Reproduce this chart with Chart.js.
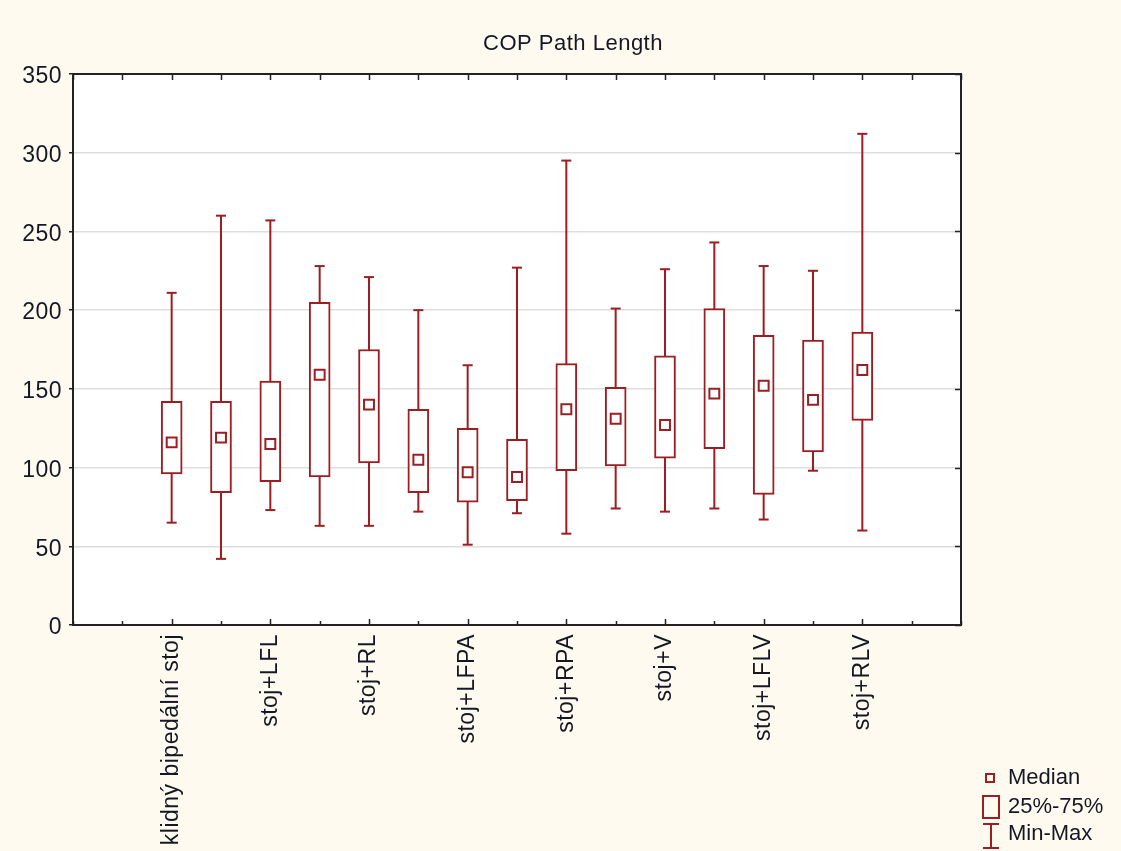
<!DOCTYPE html>
<html>
<head>
<meta charset="utf-8">
<title>COP Path Length</title>
<script src="https://cdn.jsdelivr.net/npm/chart.js@4/dist/chart.umd.min.js"></script>
<style>
  html, body { margin: 0; padding: 0; background: #fffaef; }
  canvas { display: block; }
</style>
</head>
<body>
<canvas id="chart" width="1121" height="851"></canvas>
<script>
// every other box is labelled on the axis
const categories = ['klidný bipedální stoj', '', 'stoj+LFL', '', 'stoj+RL', '', 'stoj+LFPA', '',
                    'stoj+RPA', '', 'stoj+V', '', 'stoj+LFLV', '', 'stoj+RLV'];
const mins    = [65, 42, 73, 63, 63, 72, 51, 71, 58, 74, 72, 74, 67, 98, 60];
const q1      = [96, 84, 91, 94, 103, 84, 78, 79, 98, 101, 106, 112, 83, 110, 130];
const medians = [116, 119, 115, 159, 140, 105, 97, 94, 137, 131, 127, 147, 152, 143, 162];
const q3      = [142, 142, 155, 205, 175, 137, 125, 118, 166, 151, 171, 201, 184, 181, 186];
const maxs    = [211, 260, 257, 228, 221, 200, 165, 227, 295, 201, 226, 243, 228, 225, 312];
const yTicks  = [0, 50, 100, 150, 200, 250, 300, 350];
const title = 'COP Path Length';
const legendItems = ['Median', '25%-75%', 'Min-Max'];

const RED = '#9c1e22';
const INK = '#141824';
const FONT = '"Liberation Sans", Arial, sans-serif';

const background = {
    id: 'background',
    beforeUpdate(chart) { chart.ctx.letterSpacing = '0.5px'; },
    beforeDraw(chart) {
        const {ctx, chartArea: a} = chart;
        ctx.letterSpacing = '0.5px';
        ctx.save();
        ctx.fillStyle = '#fffaef';
        ctx.fillRect(0, 0, chart.width, chart.height);
        ctx.fillStyle = '#ffffff';
        ctx.fillRect(a.left, a.top, a.right - a.left, a.bottom - a.top);
        ctx.restore();
    }
};

// frame with inner ticks on bottom, top and right, plus title and legend
const frame = {
    id: 'frame',
    afterDatasetsDraw(chart) {
        const {ctx, chartArea: a, scales: {x, y}} = chart;
        ctx.save();
        ctx.strokeStyle = '#222';
        ctx.lineWidth = 1.5;
        ctx.beginPath();
        x.ticks.forEach(t => {
            const px = Math.round(x.getPixelForValue(t.value)) + 0.5;
            const len = (t.label !== '') ? 6 : 4;
            ctx.moveTo(px, a.bottom); ctx.lineTo(px, a.bottom - len);
            ctx.moveTo(px, a.top); ctx.lineTo(px, a.top + 6);
        });
        y.ticks.forEach(t => {
            const py = Math.round(y.getPixelForValue(t.value)) + 0.5;
            ctx.moveTo(a.right, py); ctx.lineTo(a.right - 6, py);
        });
        ctx.stroke();
        ctx.lineWidth = 2;
        ctx.strokeRect(a.left, a.top, a.right - a.left, a.bottom - a.top);
        ctx.restore();
    },
    afterDraw(chart) {
        const ctx = chart.ctx;
        ctx.save();
        ctx.fillStyle = INK;
        ctx.font = '22px ' + FONT;
        ctx.letterSpacing = '0.5px';
        ctx.textAlign = 'center';
        ctx.textBaseline = 'middle';
        ctx.fillText(title, 573, 44);

        ctx.strokeStyle = RED;
        ctx.lineWidth = 2;
        ctx.strokeRect(986, 774, 8, 8);
        ctx.strokeRect(983, 796, 16, 22);
        ctx.beginPath();
        ctx.moveTo(991, 824); ctx.lineTo(991, 848);
        ctx.moveTo(983, 824); ctx.lineTo(999, 824);
        ctx.moveTo(983, 848); ctx.lineTo(999, 848);
        ctx.stroke();
        ctx.textAlign = 'left';
        ctx.letterSpacing = '0px';
        [778, 807, 834].forEach((ty, i) => ctx.fillText(legendItems[i], 1008, ty));
        ctx.restore();
    }
};

const idx = categories.map((c, i) => i);

new Chart(document.getElementById('chart'), {
    type: 'bar',
    data: {
        datasets: [{
            // median squares on top
            type: 'line',
            order: 0,
            showLine: false,
            data: idx.map(i => ({x: i, y: medians[i]})),
            pointStyle: 'rect',
            pointRadius: 7,
            pointBorderWidth: 2,
            pointBorderColor: RED,
            pointBackgroundColor: '#ffffff'
        }, {
            // 25%-75% box
            type: 'bar',
            order: 1,
            data: idx.map(i => ({x: i, y: [q1[i], q3[i]]})),
            barThickness: 21,
            backgroundColor: '#ffffff',
            borderColor: RED,
            borderWidth: 2,
            borderSkipped: false
        }, {
            // min-max whisker
            type: 'line',
            order: 2,
            data: idx.flatMap(i => [{x: i, y: mins[i]}, {x: i, y: maxs[i]}, {x: i, y: null}]),
            spanGaps: false,
            borderColor: RED,
            borderWidth: 2,
            pointRadius: 0
        }, {
            // whisker caps
            type: 'line',
            order: 2,
            showLine: false,
            data: idx.flatMap(i => [{x: i, y: mins[i]}, {x: i, y: maxs[i]}]),
            pointStyle: 'line',
            pointRadius: 5,
            pointBorderWidth: 2,
            pointBorderColor: RED
        }]
    },
    options: {
        responsive: false,
        animation: false,
        layout: { padding: { top: 74, right: 160 } },
        scales: {
            x: {
                type: 'linear',
                offset: false,
                min: -2,
                max: 16,
                afterFit: s => { s.height = 226; },
                grid: { display: false, drawTicks: false, offset: false },
                border: { display: false },
                ticks: {
                    stepSize: 1,
                    maxTicksLimit: 100,
                    autoSkip: false,
                    minRotation: 90,
                    maxRotation: 90,
                    padding: 9,
                    color: INK,
                    font: { family: FONT, size: 23 },
                    callback: v => (Number.isInteger(v) && v >= 0 && v < categories.length) ? categories[v] : ''
                }
            },
            y: {
                min: yTicks[0],
                max: yTicks[yTicks.length - 1],
                afterFit: s => { s.width = 73; },
                afterBuildTicks: s => { s.ticks = yTicks.map(v => ({value: v})); },
                grid: { color: '#dedede', lineWidth: 1.5, tickColor: '#222', tickLength: 4 },
                border: { display: false },
                ticks: {
                    padding: 7,
                    labelOffset: 3,
                    color: INK,
                    font: { family: FONT, size: 23 }
                }
            }
        },
        plugins: {
            legend: { display: false },
            tooltip: { enabled: false },
            title: { display: false }
        }
    },
    plugins: [background, frame]
});
</script>
</body>
</html>
